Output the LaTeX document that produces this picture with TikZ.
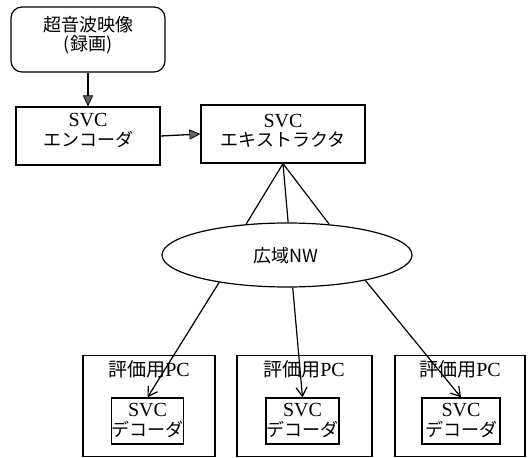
\documentclass[tikz,border=0pt]{standalone}
\usepackage{fontspec}
\setmainfont{Liberation Serif}
\newfontfamily\jp{Noto Sans CJK JP}
\usetikzlibrary{shapes.geometric,arrows.meta}
\newcommand{\jpt}[1]{{\jp\fontsize{18}{19}\selectfont #1}}
\tikzset{
  box/.style={draw, line width=1.2pt, rectangle, inner sep=0pt},
  rbox/.style={box, rounded corners=11pt},
  txt/.style={align=center, inner sep=0pt, font=\fontsize{20}{19.5}\selectfont},
  garrow/.style={line width=1.3pt, -{Triangle[length=11pt,width=10pt,fill=black!60,line width=0.8pt]}},
  thin arrow/.style={line width=1.2pt, -{Straight Barb[length=9pt,width=11pt]}},
  link/.style={line width=1.2pt}
}
\begin{document}
\begin{tikzpicture}[x=1pt,y=-1pt]
\useasboundingbox (0,0) rectangle (528,458);
% boxes
\node[rbox, minimum width=154pt, minimum height=65pt] (src) at (88,39.5) {};
\node[box, minimum width=144pt, minimum height=58pt] (enc) at (88,136) {};
\node[box, minimum width=164pt, minimum height=58pt] (ext) at (283,134) {};
\node[ellipse, draw, line width=1.2pt, minimum width=250pt, minimum height=64pt, inner sep=0pt] (nw) at (287,255) {};
\node[box, minimum width=132pt, minimum height=101pt] (pc1) at (149,406) {};
\node[box, minimum width=135pt, minimum height=101pt] (pc2) at (304.5,406) {};
\node[box, minimum width=130pt, minimum height=101pt] (pc3) at (460,406) {};
\node[box, minimum width=72pt, minimum height=46pt] (dec1) at (147.5,421) {};
\node[box, minimum width=73pt, minimum height=46pt] (dec2) at (302.5,421) {};
\node[box, minimum width=78pt, minimum height=46pt] (dec3) at (461,421) {};
% texts
\node[txt] (srct) at (88,35) {\jpt{超音波映像}\\\jpt{(録画)}};
\node[txt] (enct) at (88,130.5) {SVC\\\jpt{エンコーダ}};
\node[txt] (extt) at (283,131) {SVC\\\jpt{エキストラクタ}};
\node[txt] (nwt) at (286,255.5) {\jpt{広域NW}};
\node[txt] (pl1) at (149,369) {{\jp\fontsize{19}{19}\selectfont 評価用}PC};
\node[txt] (pl2) at (304,369) {{\jp\fontsize{19}{19}\selectfont 評価用}PC};
\node[txt] (pl3) at (460,369) {{\jp\fontsize{19}{19}\selectfont 評価用}PC};
\node[txt] (d1t) at (147.5,420.5) {SVC\\\jpt{デコーダ}};
\node[txt] (d2t) at (302.5,420.5) {SVC\\\jpt{デコーダ}};
\node[txt] (d3t) at (461,420.5) {SVC\\\jpt{デコーダ}};
% connectors
\draw[garrow] (src.south) -- (enc.north);
\draw[garrow] (enc.east) -- (ext.west);
\draw[link] (ext.south) -- (nw.143);
\draw[link] (ext.south) -- (nw.88);
\draw[link] (ext.south) -- (nw.36);
\draw[thin arrow] (nw.202) -- (dec1.north);
\draw[thin arrow] (nw.280) -- (dec2.north);
\draw[thin arrow] (nw.342) -- (dec3.north);
\end{tikzpicture}
\end{document}
